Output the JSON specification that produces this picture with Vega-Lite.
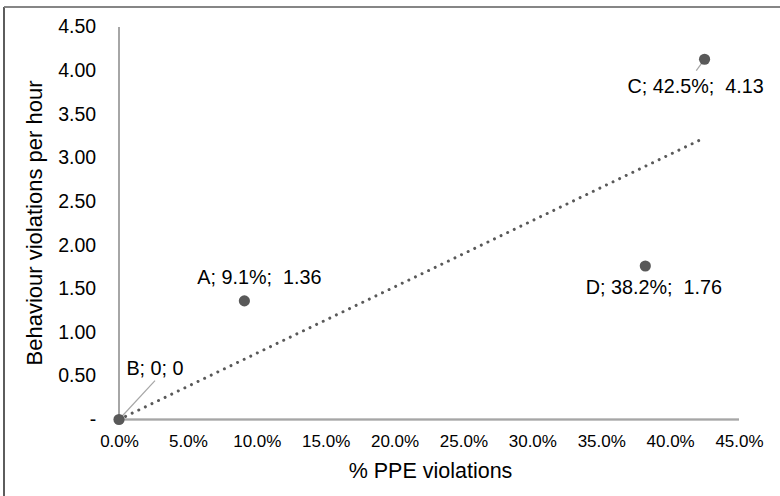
{
  "$schema": "https://vega.github.io/schema/vega-lite/v6.json",
  "autosize": "none",
  "padding": {"left": 4, "top": 7, "right": 0, "bottom": 0},
  "width": 776,
  "height": 489,
  "background": "white",
  "datasets": {
    "obs": [
      {"id": "A", "pct": 0.091, "rate": 1.36, "label": "A; 9.1%; \u00a01.36"},
      {"id": "B", "pct": 0.0, "rate": 0.0, "label": "B; 0; 0"},
      {"id": "C", "pct": 0.425, "rate": 4.13, "label": "C; 42.5%; \u00a04.13"},
      {"id": "D", "pct": 0.382, "rate": 1.76, "label": "D; 38.2%; \u00a01.76"}
    ],
    "trend": [
      {"pct": 0.0, "rate": 0.0},
      {"pct": 0.425, "rate": 3.23}
    ]
  },
  "data": {"name": "obs"},
  "encoding": {
    "x": {
      "field": "pct",
      "type": "quantitative",
      "scale": {"domain": [-0.08347, 0.47976], "nice": false, "zero": false},
      "axis": {
        "title": "% PPE violations",
        "values": [0, 0.05, 0.1, 0.15, 0.2, 0.25, 0.3, 0.35, 0.4, 0.45],
        "format": ".1%",
        "offset": -76.5,
        "domain": false,
        "ticks": false,
        "grid": false,
        "labelFontSize": 17,
        "labelPadding": 13.7,
        "labelBaseline": "top",
        "labelColor": "#000000",
        "labelFlush": false,
        "labelOverlap": false,
        "titleFontSize": 21.5,
        "titleFontWeight": "normal",
        "titleColor": "#000000",
        "titleBaseline": "alphabetic",
        "titleX": 426,
        "titleY": 57.5
      }
    },
    "y": {
      "field": "rate",
      "type": "quantitative",
      "scale": {"domain": [-0.8771, 4.7293], "nice": false, "zero": false},
      "axis": {
        "title": "Behaviour violations per hour",
        "values": [0, 0.5, 1, 1.5, 2, 2.5, 3, 3.5, 4, 4.5],
        "labelExpr": "datum.value == 0 ? '-\u00a0\u00a0' : format(datum.value, '.2f')",
        "offset": -115,
        "domain": false,
        "ticks": false,
        "grid": false,
        "labelFontSize": 19.5,
        "labelPadding": 23.3,
        "labelColor": "#000000",
        "labelFlush": false,
        "labelOverlap": false,
        "titleFontSize": 22,
        "titleFontWeight": "normal",
        "titleColor": "#000000",
        "titleAngle": -90,
        "titleAlign": "center",
        "titleBaseline": "alphabetic",
        "titleX": -77.5,
        "titleY": 215.5
      }
    }
  },
  "layer": [
    {
      "mark": {"type": "rule", "color": "#595959", "strokeWidth": 1.2},
      "encoding": {
        "x": {"datum": -0.08347},
        "y": {"datum": -0.8771},
        "y2": {"datum": 4.7293}
      }
    },
    {
      "mark": {"type": "rule", "color": "#7f7f7f", "strokeWidth": 1.2},
      "encoding": {
        "y": {"datum": 4.7293},
        "x": {"datum": -0.08347},
        "x2": {"datum": 0.47976}
      }
    },
    {
      "mark": {"type": "rule", "color": "#a6a6a6", "strokeWidth": 1.5},
      "encoding": {
        "x": {"datum": 0},
        "x2": {"datum": 0.45},
        "y": {"datum": 0}
      }
    },
    {
      "mark": {"type": "rule", "color": "#a6a6a6", "strokeWidth": 1.5},
      "encoding": {
        "x": {"datum": 0},
        "y": {"datum": 0},
        "y2": {"datum": 4.5}
      }
    },
    {
      "data": {"name": "trend"},
      "mark": {"type": "line", "color": "#595959", "strokeWidth": 3, "strokeCap": "round", "strokeDash": [0.01, 7.3]}
    },
    {
      "transform": [{"filter": "datum.id == 'B'"}],
      "mark": {"type": "rule", "color": "#a6a6a6", "strokeWidth": 1.2, "x2Offset": 36, "y2Offset": -38.8},
      "encoding": {"x2": {"field": "pct"}, "y2": {"field": "rate"}}
    },
    {
      "transform": [{"filter": "datum.id == 'C'"}],
      "mark": {"type": "rule", "color": "#a6a6a6", "strokeWidth": 1.2, "x2Offset": -8.3, "y2Offset": 11.4},
      "encoding": {"x2": {"field": "pct"}, "y2": {"field": "rate"}}
    },
    {
      "mark": {"type": "point", "filled": true, "shape": "circle", "size": 125, "color": "#595959", "opacity": 1}
    },
    {
      "transform": [{"filter": "datum.id == 'A'"}],
      "mark": {"type": "text", "fontSize": 19.8, "align": "center", "baseline": "middle", "dx": 15, "dy": -22.6, "color": "#000000"},
      "encoding": {"text": {"field": "label"}}
    },
    {
      "transform": [{"filter": "datum.id == 'B'"}],
      "mark": {"type": "text", "fontSize": 19.8, "align": "center", "baseline": "middle", "dx": 36, "dy": -50.9, "color": "#000000"},
      "encoding": {"text": {"field": "label"}}
    },
    {
      "transform": [{"filter": "datum.id == 'C'"}],
      "mark": {"type": "text", "fontSize": 19.8, "align": "center", "baseline": "middle", "dx": -9, "dy": 28.1, "color": "#000000"},
      "encoding": {"text": {"field": "label"}}
    },
    {
      "transform": [{"filter": "datum.id == 'D'"}],
      "mark": {"type": "text", "fontSize": 19.8, "align": "center", "baseline": "middle", "dx": 8.5, "dy": 22, "color": "#000000"},
      "encoding": {"text": {"field": "label"}}
    }
  ],
  "config": {
    "view": {"stroke": null},
    "font": "Liberation Sans",
    "axis": {"labelFont": "Liberation Sans", "titleFont": "Liberation Sans"},
    "text": {"font": "Liberation Sans"}
  }
}
